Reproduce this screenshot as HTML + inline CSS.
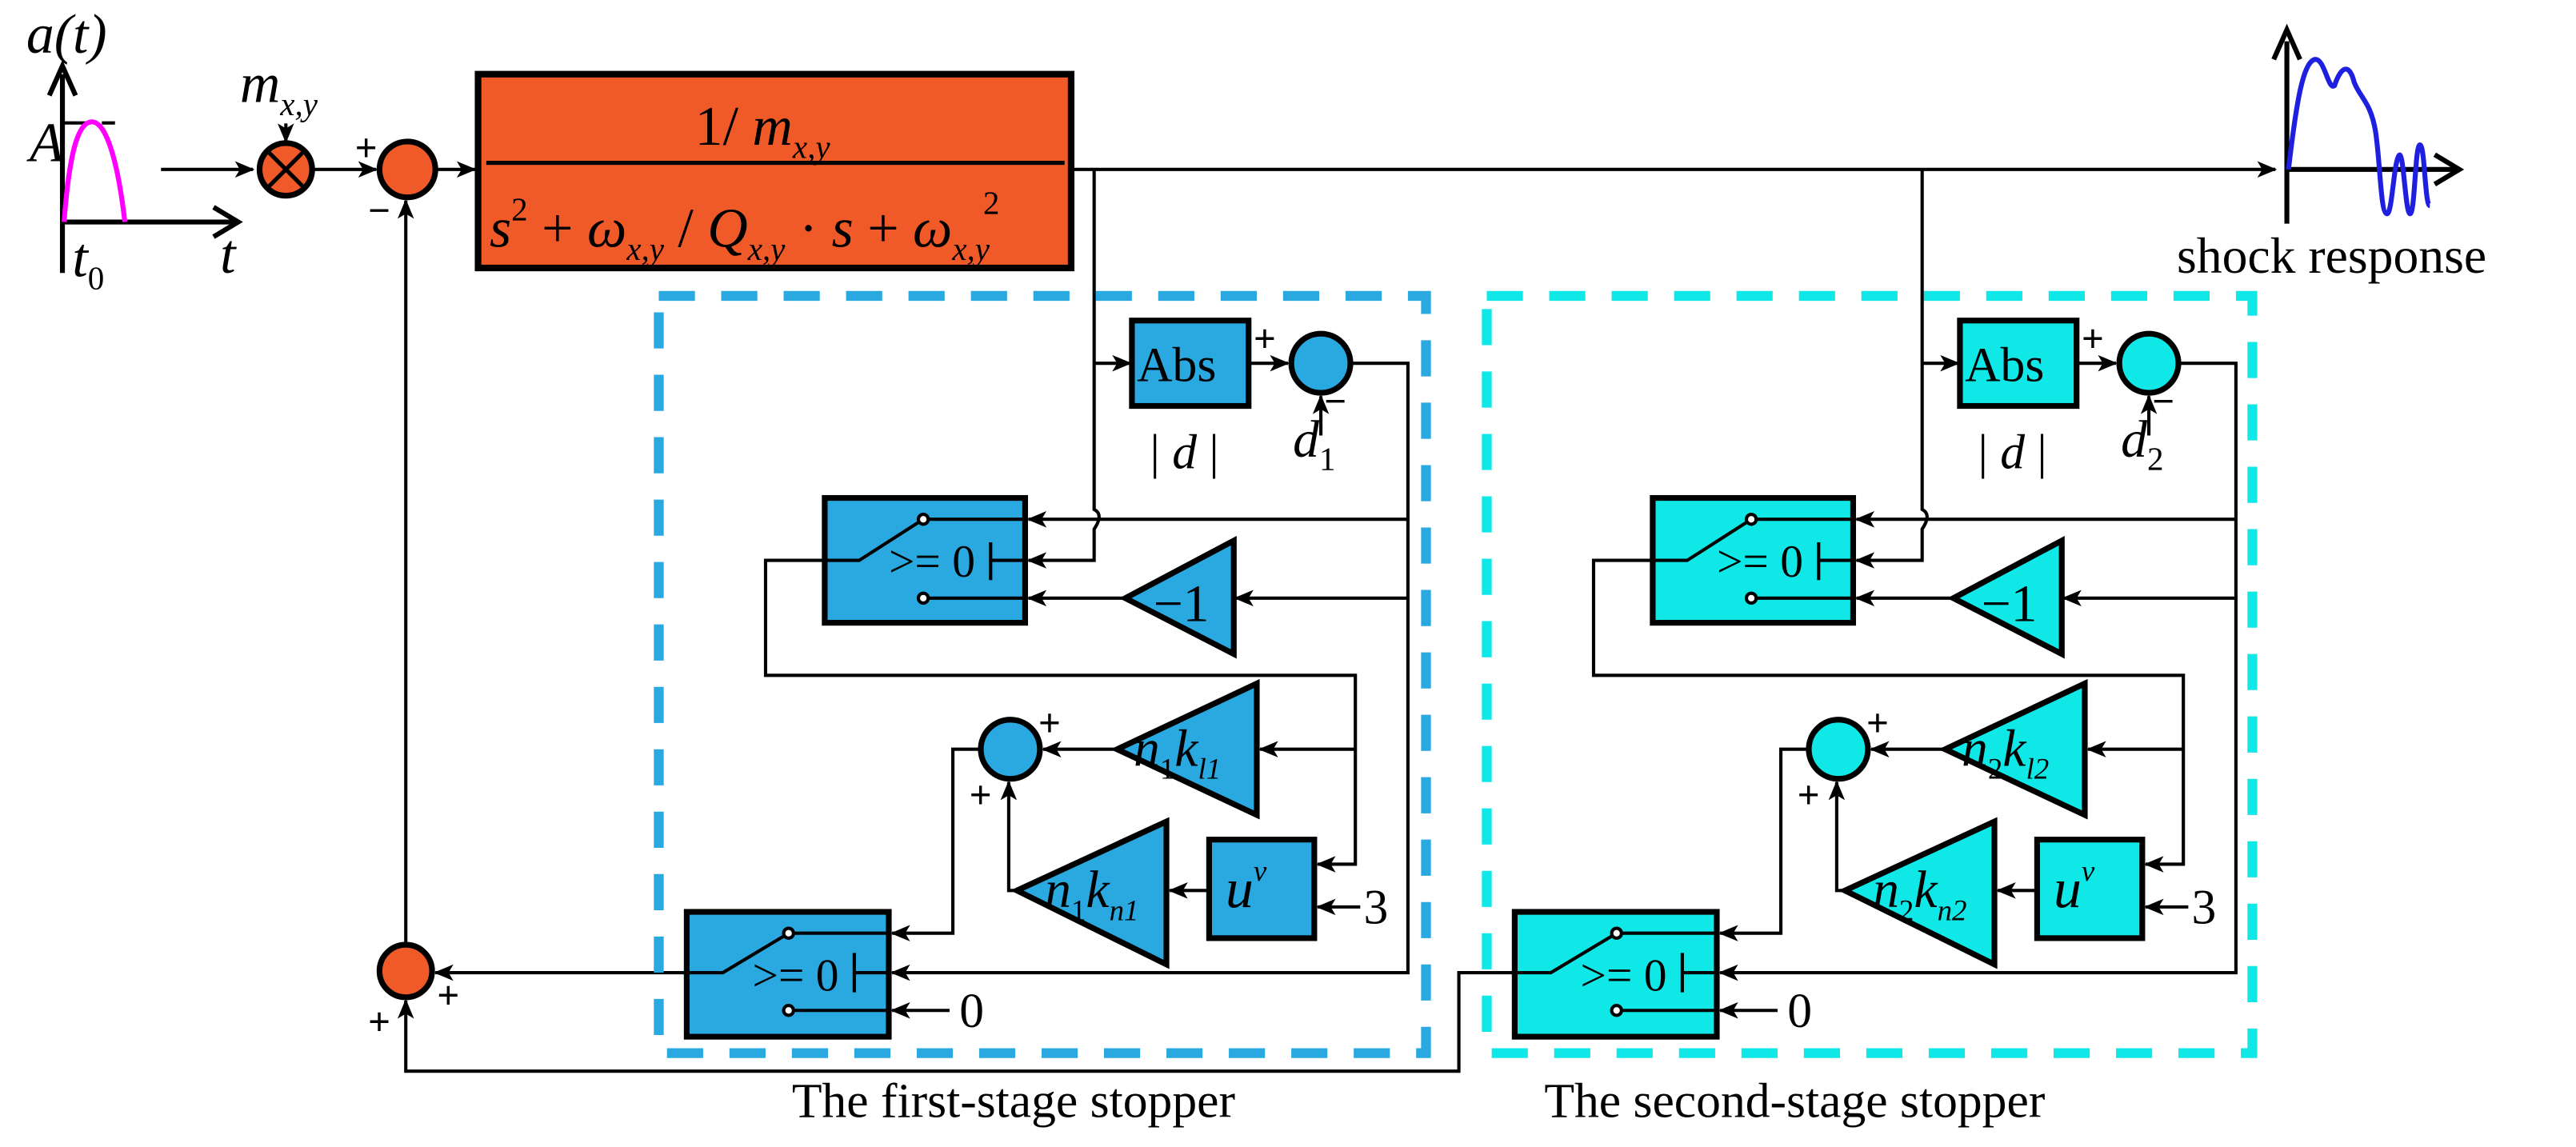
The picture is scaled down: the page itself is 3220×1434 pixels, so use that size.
<!DOCTYPE html>
<html><head><meta charset="utf-8"><style>
html,body{margin:0;padding:0;background:#fff}
svg{display:block}
text{font-family:"Liberation Serif",serif;fill:#000}
</style></head><body>
<svg width="3220" height="1434" viewBox="0 0 1568 698" xmlns="http://www.w3.org/2000/svg">
<defs>
<marker id="a" markerWidth="12" markerHeight="10" refX="11" refY="5" orient="auto" markerUnits="userSpaceOnUse">
<path d="M0,0 L12,5 L0,10 L3,5 Z" fill="#000"/></marker>
<g id="stage">
 <g stroke="#000" stroke-width="2" fill="none">
  <path d="M666,103 V310 q6,3 0,12 V341 H626" marker-end="url(#a)"/>
  <path d="M666,221 H688" marker-end="url(#a)"/>
  <rect x="689" y="195" width="71" height="52" fill="currentColor" stroke-width="3.5"/>
  <path d="M760,221 H784" marker-end="url(#a)"/>
  <circle cx="804" cy="221" r="18" fill="currentColor" stroke-width="3.5"/>
  <path d="M804,265 V241" marker-end="url(#a)"/>
  <path d="M822,221 H857 V592 H543" marker-end="url(#a)"/>
  <path d="M857,316 H626" marker-end="url(#a)"/>
  <path d="M857,364 H752" marker-end="url(#a)"/>
  <rect x="502" y="303" width="122" height="76" fill="currentColor" stroke-width="3.5"/>
  <polygon points="685,364 751,329 751,398" fill="currentColor" stroke-width="3.5"/>
  <path d="M685,364 H626" marker-end="url(#a)"/>
  <path d="M502,341 H466 V411 H825 V526 H802" marker-end="url(#a)"/>
  <path d="M825,456 H767" marker-end="url(#a)"/>
  <polygon points="680,456 765,416 765,496" fill="currentColor" stroke-width="3.5"/>
  <path d="M680,456 H635" marker-end="url(#a)"/>
  <circle cx="615" cy="456" r="18" fill="currentColor" stroke-width="3.5"/>
  <path d="M596,456 H580 V568 H543" marker-end="url(#a)"/>
  <polygon points="619,542 710,500 710,587" fill="currentColor" stroke-width="3.5"/>
  <path d="M619,542 H614 V476" marker-end="url(#a)"/>
  <rect x="736" y="511" width="64" height="60" fill="currentColor" stroke-width="3.5"/>
  <path d="M736,542 H712" marker-end="url(#a)"/>
  <path d="M828,552 H802" marker-end="url(#a)"/>
  <rect x="418" y="555" width="123" height="76" fill="currentColor" stroke-width="3.5"/>
  <path d="M578,615 H543" marker-end="url(#a)"/>
  <path d="M502,341 H523 L562,316 M562,316 H624 M562,364 H624 M603,330 V353 M603,341 H624"/>
  <circle cx="562" cy="316" r="3" fill="#fff"/><circle cx="562" cy="364" r="3" fill="#fff"/>
  <path d="M418,592 H440 L480,568 M480,568 H541 M480,615 H541 M520,580 V604 M520,592 H541"/>
  <circle cx="480" cy="568" r="3" fill="#fff"/><circle cx="480" cy="615" r="3" fill="#fff"/>
 </g>
 <g font-size="30">
  <text x="692" y="232">Abs</text>
  <text x="700" y="285">| <tspan font-style="italic">d</tspan> |</text>
  <text x="541" y="351" font-size="28">&gt;= 0</text>
  <text x="458" y="603" font-size="28">&gt;= 0</text>
  <text x="702" y="378" font-size="32">−1</text>
  <text x="746" y="552" font-style="italic" font-size="34">u<tspan font-size="18" dy="-16">v</tspan></text>
  <text x="830" y="562">3</text>
  <text x="584" y="625">0</text>
 </g>
 <g font-size="24" font-weight="bold" font-family="Liberation Sans">
  <text x="763" y="214">+</text><text x="806" y="252">−</text>
  <text x="632" y="448">+</text><text x="590" y="492">+</text>
 </g>
</g>
</defs>

<g stroke="#000" stroke-width="2" fill="none">
<path d="M38,166 V45" stroke-width="3"/><path d="M30,58 L38,40 L46,58" stroke-width="3"/>
<path d="M38,135 H143" stroke-width="3"/><path d="M130,126 L145,135 L130,144" stroke-width="3"/>
<path d="M38,74.7 H55 M62,74.7 H70"/>
<path d="M39,135 C42,95 47,74 56,74 C65,74 72,100 76,135" stroke="#f0f" stroke-width="3"/>
<path d="M98,103 H154" marker-end="url(#a)"/>
<path d="M174,75 V86" marker-end="url(#a)"/>
<circle cx="174" cy="103" r="16" fill="#f05a28" stroke-width="3.5"/>
<path d="M163,92 L185,114 M185,92 L163,114" stroke-width="2.5"/>
<path d="M190,103 H229" marker-end="url(#a)"/>
<circle cx="248" cy="103" r="17" fill="#f05a28" stroke-width="3.5"/>
<path d="M265,103 H289" marker-end="url(#a)"/>
<rect x="291" y="45" width="361" height="118" fill="#f05a28" stroke-width="4"/>
<path d="M296,99 H648" stroke-width="2.5"/>
<path d="M652,103 H1385" marker-end="url(#a)"/>
<path d="M247,574 V122" marker-end="url(#a)"/>
<circle cx="247" cy="591" r="16" fill="#f05a28" stroke-width="3.5"/>
<path d="M418,592 H265" marker-end="url(#a)"/>
<path d="M922,592 H888 V652 H247 V609" marker-end="url(#a)"/>
<path d="M1392,136 V25" stroke-width="3"/><path d="M1384,36 L1392,18 L1400,36" stroke-width="3"/>
<path d="M1392,103 H1495" stroke-width="3"/><path d="M1482,94 L1497,103 L1482,112" stroke-width="3"/>
<path d="M1393,103 C1398,60 1402,38 1409,36 C1415,35 1417,55 1421,52 C1425,40 1430,38 1433,50 C1437,60 1443,62 1446,80 C1449,100 1449,130 1453,130 C1456,130 1457,100 1460,95 C1463,88 1464,130 1467,130 C1470,130 1470,88 1473,88 C1476,88 1476,125 1479,125" stroke="#1f1fe0" stroke-width="3"/>
<rect x="401" y="180" width="467" height="461" stroke="#2aa8e0" stroke-width="6" stroke-dasharray="22,16"/>
<rect x="905" y="180" width="466" height="461" stroke="#10e8e8" stroke-width="6" stroke-dasharray="22,16"/>
</g>

<use href="#stage" style="color:#2aa8e0"/>
<use href="#stage" transform="translate(504,0)" style="color:#10e8e8"/>

<g font-style="italic" font-size="32">
<text x="787" y="278">d<tspan font-size="20" font-style="normal" dy="8">1</tspan></text>
<text x="1291" y="278">d<tspan font-size="20" font-style="normal" dy="8">2</tspan></text>
<text x="690" y="466">n<tspan font-size="18" font-style="normal" dy="8">1</tspan><tspan dy="-8">k</tspan><tspan font-size="18" dy="8">l1</tspan></text>
<text x="1194" y="466">n<tspan font-size="18" font-style="normal" dy="8">2</tspan><tspan dy="-8">k</tspan><tspan font-size="18" dy="8">l2</tspan></text>
<text x="636" y="552">n<tspan font-size="18" font-style="normal" dy="8">1</tspan><tspan dy="-8">k</tspan><tspan font-size="18" dy="8">n1</tspan></text>
<text x="1140" y="552">n<tspan font-size="18" font-style="normal" dy="8">2</tspan><tspan dy="-8">k</tspan><tspan font-size="18" dy="8">n2</tspan></text>
</g>

<g font-size="34" font-style="italic">
<text x="16" y="32">a(t)</text>
<text x="18" y="98">A</text>
<text x="44" y="168">t<tspan font-size="20" font-style="normal" dy="8">0</tspan></text>
<text x="134" y="166">t</text>
<text x="146" y="62">m<tspan font-size="20" dy="8">x,y</tspan></text>
<text x="423" y="88" font-style="normal">1/ <tspan font-style="italic">m</tspan><tspan font-size="20" font-style="italic" dy="8">x,y</tspan></text>
<text x="298" y="150">s<tspan font-size="20" font-style="normal" dy="-16">2</tspan><tspan font-style="normal" dy="16"> + </tspan>ω<tspan font-size="20" dy="8">x,y</tspan><tspan dy="-8" font-style="normal"> / </tspan>Q<tspan font-size="20" dy="8">x,y</tspan><tspan dy="-8" font-style="normal"> · </tspan>s<tspan font-style="normal"> + </tspan>ω<tspan font-size="20" dy="8">x,y</tspan><tspan font-size="20" font-style="normal" dx="-4" dy="-28">2</tspan></text>
</g>
<text x="1325" y="166" font-size="31">shock response</text>
<g font-size="24" font-weight="bold" font-family="Liberation Sans">
<text x="216" y="98">+</text><text x="224" y="136">−</text>
<text x="224" y="630">+</text><text x="266" y="614">+</text>
</g>
<text x="482" y="680" font-size="30">The first-stage stopper</text>
<text x="940" y="680" font-size="30">The second-stage stopper</text>
</svg>
</body></html>
